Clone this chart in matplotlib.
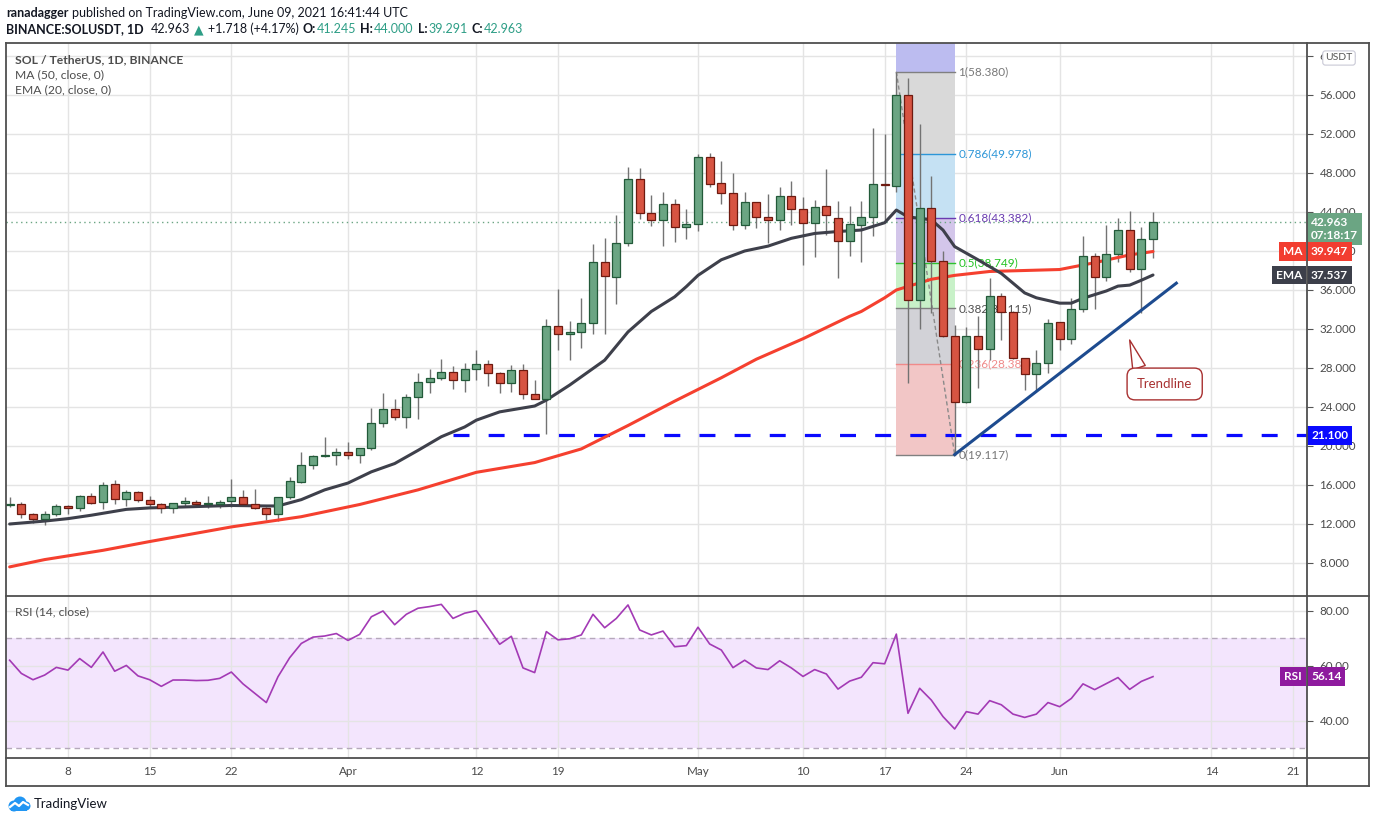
import matplotlib
matplotlib.use("Agg")
import matplotlib.pyplot as plt
import matplotlib.dates as mdates
import matplotlib.transforms as mtrans
from matplotlib.lines import Line2D
from matplotlib.patches import Circle
import pandas as pd

plt.rcParams['font.family'] = ['Lato', 'DejaVu Sans']

W, H = 1376, 823

# --- daily candles, SOL/USDT 1D, 3 Mar - 9 Jun 2021 ---
dates = pd.date_range('2021-03-03', periods=99, freq='D')
opens = [13.95, 14.0, 13.0, 12.5, 13.0, 13.8, 13.6, 14.85, 14.25, 16.1,
         14.55, 15.25, 14.45, 14.1, 13.6, 14.2, 14.3, 14.05, 14.05, 14.35,
         14.75, 14.1, 13.6, 13.0, 14.75, 16.35, 18.0, 18.95, 19.05, 19.35,
         19.05, 19.75, 22.4, 23.75, 22.95, 25.0, 26.55, 26.95, 27.55, 26.75,
         27.85, 28.45, 27.45, 26.45, 27.75, 25.3, 24.8, 32.3, 31.5, 31.7,
         32.6, 38.85, 37.3, 40.8, 47.35, 43.85, 43.15, 44.8, 42.45, 42.75,
         49.6, 46.95, 45.9, 42.65, 45.0, 43.45, 43.15, 45.6, 44.3, 42.85,
         44.6, 43.35, 41.0, 42.65, 43.45, 46.9, 46.7, 56.0, 35.0, 44.4,
         39.0, 31.3, 24.5, 31.3, 29.95, 35.4, 33.7, 29.0, 27.35, 28.55,
         32.75, 30.95, 34.0, 39.5, 37.3, 39.65, 42.2, 38.2, 41.245]
highs = [14.75, 14.3, 13.1, 13.3, 14.0, 13.9, 14.95, 15.2, 16.35, 16.5,
         15.45, 15.4, 14.9, 14.2, 14.2, 14.75, 14.45, 14.85, 14.45, 16.6,
         15.45, 15.55, 13.7, 14.8, 16.85, 19.35, 19.1, 20.9, 19.8, 20.4,
         19.75, 23.9, 25.4, 24.8, 25.3, 27.5, 27.9, 28.9, 28.2, 28.5,
         29.8, 28.8, 27.6, 28.3, 28.4, 26.75, 33.0, 36.1, 32.8, 35.15,
         40.7, 41.3, 43.7, 48.6, 48.5, 45.7, 46.0, 45.3, 44.3, 49.95,
         50.05, 49.25, 48.05, 46.0, 45.0, 45.8, 46.6, 47.15, 45.5, 45.2,
         48.45, 45.15, 44.6, 45.15, 52.6, 52.0, 58.38, 57.7, 53.0, 47.7,
         40.0, 32.4, 32.2, 33.3, 37.2, 35.65, 33.8, 29.0, 29.85, 33.0,
         32.75, 35.15, 41.5, 39.75, 42.7, 43.35, 44.15, 42.5, 44.0]
lows = [13.7, 12.65, 12.1, 11.9, 12.8, 13.0, 13.3, 14.0, 13.55, 14.1,
        13.8, 14.3, 13.65, 13.15, 13.1, 13.7, 13.7, 13.6, 13.6, 13.7,
        13.95, 13.5, 12.45, 12.35, 14.6, 16.25, 17.6, 18.85, 18.0, 18.7,
        18.3, 19.6, 21.9, 22.7, 21.8, 22.8, 25.45, 26.75, 25.85, 25.5,
        26.75, 26.2, 25.45, 25.5, 24.8, 24.8, 21.2, 29.8, 28.8, 30.05,
        31.45, 31.45, 34.6, 40.55, 43.25, 42.55, 40.5, 40.9, 41.2, 42.0,
        46.6, 44.8, 42.2, 42.3, 42.4, 40.8, 42.2, 42.65, 38.6, 39.35,
        41.6, 37.2, 39.5, 38.9, 41.5, 43.2, 46.0, 26.5, 32.0, 33.6,
        31.2, 19.117, 24.4, 25.9, 28.8, 30.9, 28.9, 25.75, 25.6, 27.45,
        29.85, 30.5, 33.7, 34.1, 36.95, 38.9, 37.8, 33.6, 39.291]
closes = [14.1, 13.0, 12.5, 13.0, 13.8, 13.6, 14.85, 14.2, 16.0, 14.6,
          15.3, 14.45, 14.1, 13.6, 14.2, 14.3, 14.1, 14.15, 14.3, 14.75,
          14.1, 13.6, 13.0, 14.75, 16.45, 18.0, 19.0, 19.1, 19.35, 19.05,
          19.75, 22.4, 23.75, 22.95, 25.0, 26.55, 26.95, 27.55, 26.75, 27.85,
          28.45, 27.45, 26.45, 27.75, 25.3, 24.8, 32.3, 31.5, 31.65, 32.6,
          38.85, 37.4, 40.8, 47.35, 43.85, 43.15, 44.8, 42.45, 42.75, 49.6,
          46.85, 45.9, 42.65, 45.0, 43.45, 43.15, 45.6, 44.3, 42.85, 44.5,
          43.7, 41.0, 42.75, 43.45, 46.85, 46.75, 56.0, 35.0, 44.4, 39.0,
          31.3, 24.5, 31.3, 29.95, 35.4, 33.7, 29.0, 27.35, 28.55, 32.65,
          30.95, 34.0, 39.5, 37.3, 39.65, 42.2, 38.2, 41.245, 42.963]

# RSI(14, close), one value per candle
rsi_vals = [62.1, 57.3, 55.0, 56.7, 59.5, 58.5, 62.7, 59.5, 65.1, 58.1,
            60.2, 56.4, 55.0, 52.6, 54.9, 54.9, 54.7, 54.8, 55.5, 57.8,
            53.5, 50.1, 46.7, 56.1, 63.0, 68.2, 70.5, 70.9, 71.8, 69.3,
            71.5, 77.9, 80.0, 75.0, 78.8, 81.0, 81.6, 82.4, 77.3, 79.2,
            80.1, 74.1, 67.9, 70.8, 59.3, 57.6, 72.5, 69.5, 69.9, 71.3,
            78.8, 73.9, 77.3, 82.2, 73.1, 71.3, 72.7, 67.0, 67.4, 74.1,
            68.0, 65.8, 59.4, 62.1, 59.3, 58.7, 61.9, 59.3, 56.2, 58.7,
            57.1, 51.6, 54.5, 55.9, 61.2, 60.8, 71.6, 42.8, 51.9, 47.6,
            41.6, 37.1, 43.4, 42.5, 47.4, 45.9, 42.5, 41.3, 42.5, 46.7,
            45.2, 48.2, 53.5, 51.4, 53.6, 55.8, 51.5, 54.4, 56.14]

# MA(50) and EMA(20) at these candle indexes
ma_idx = [0, 3, 8, 12, 19, 25, 30, 35, 40, 45, 49, 53, 57, 61, 64, 68, 72,
          73, 75, 76, 79, 81, 84, 90, 93, 96, 98]
ma_vals = [7.6, 8.35, 9.3, 10.2, 11.7, 12.75, 14.0, 15.5, 17.3, 18.3, 19.7,
           22.1, 24.6, 27.0, 28.9, 31.0, 33.3, 33.8, 35.2, 36.0, 37.1, 37.5,
           37.9, 38.1, 38.8, 39.6, 39.947]
ema_idx = [0, 3, 5, 7, 10, 12, 15, 19, 22, 23, 25, 27, 29, 31, 33, 35, 37,
           39, 40, 42, 43, 45, 46, 48, 51, 53, 55, 57, 58, 59, 61, 63, 65,
           67, 69, 71, 73, 75, 76, 77, 79, 80, 81, 83, 85, 87, 88, 90, 91,
           92, 94, 95, 96, 97, 98]
ema_vals = [12.0, 12.3, 12.55, 12.9, 13.5, 13.65, 13.75, 13.9, 13.85, 13.85,
            14.5, 15.5, 16.2, 17.35, 18.2, 19.55, 20.95, 21.95, 22.65, 23.5,
            23.7, 24.1, 24.7, 26.25, 28.8, 31.7, 33.8, 35.3, 36.35, 37.5,
            39.1, 40.0, 40.5, 41.3, 41.8, 42.0, 42.15, 42.9, 44.2, 43.5,
            43.2, 42.15, 40.45, 39.1, 37.7, 35.7, 35.2, 34.65, 34.65, 35.15,
            35.9, 36.4, 36.5, 37.0, 37.537]

# drawings
support_level = 21.1
support_start = '2021-04-10'
fib_start, fib_end = '2021-05-18', '2021-05-23'
fib_low, fib_high = 19.117, 58.38
fib_levels = [0, 0.236, 0.382, 0.5, 0.618, 0.786, 1, 1.618]
fib_fill = ['#f2c6c6', '#d2d2d7', '#c8f1c8', '#d3c6ea', '#c5e1f3', '#d9d9d9', '#bcbcf0']
fib_line = {0: '#808080', 0.236: '#f08a8a', 0.382: '#808080', 0.5: '#2fc12f',
            0.618: '#6a3bb0', 0.786: '#2c96d8', 1: '#808080'}
fib_text = {0: '#787878', 0.236: '#f08a8a', 0.382: '#505050', 0.5: '#22c322',
            0.618: '#6a3bb0', 0.786: '#2c96d8', 1: '#787878'}
trend_dates = ['2021-05-23', '2021-06-11']
trend_prices = [19.117, 36.7]
callout_tip = ('2021-06-07', 30.87)
callout_box = ('2021-06-10', 26.36)

grid_dates = ['2021-03-08', '2021-03-15', '2021-03-22', '2021-04-01', '2021-04-12',
              '2021-04-19', '2021-05-01', '2021-05-10', '2021-05-17', '2021-05-24',
              '2021-06-01', '2021-06-14', '2021-06-21']
grid_labels = ['8', '15', '22', 'Apr', '12', '19', 'May', '10', '17', '24', 'Jun', '14', '21']

GREEN, GREEN_E = '#6ba583', '#225a39'
RED, RED_E = '#d75442', '#6e1a10'
WICK = '#737373'
GRID = '#e4e4e4'
TXT = '#4a4a4a'


def d(s):
    return mdates.date2num(pd.Timestamp(s))


x = mdates.date2num(dates)
x0 = x[0]

fig = plt.figure(figsize=(W / 100, H / 100), dpi=100)
fig.patch.set_facecolor('white')


def fx(px):
    return px / W


def fy(py):
    return 1 - py / H


ax = fig.add_axes([fx(6), fy(596), fx(1307) - fx(6), fy(43) - fy(596)])
rax = fig.add_axes([fx(6), fy(758), fx(1307) - fx(6), fy(596) - fy(758)])

for a in (ax, rax):
    a.set_xlim(x0 - 0.314, x0 + 111.2)
    for s in a.spines.values():
        s.set_visible(False)
    a.set_axisbelow(True)
    a.set_xticks([d(g) for g in grid_dates])
    a.grid(True, color=GRID, lw=1)
    a.yaxis.tick_right()
    a.tick_params(axis='y', direction='out', length=4, width=0.8, color='#555555',
                  labelsize=8.4, labelcolor=TXT, pad=5)

ax.set_ylim(4.615, 61.333)
ax.set_yticks(range(8, 61, 4))
ax.set_yticklabels(['%.3f' % v for v in range(8, 61, 4)])
ax.tick_params(axis='x', length=0, labelbottom=False)

rax.set_ylim(26.545, 85.45)
rax.set_yticks([40, 60, 80])
rax.set_yticklabels(['40.00', '60.00', '80.00'])
rax.set_xticklabels(grid_labels)
rax.tick_params(axis='x', length=0, labelsize=8.4, labelcolor=TXT, pad=6)

# fib retracement box
fs_, fe_ = d(fib_start), d(fib_end)
rng = fib_high - fib_low
for k in range(len(fib_levels) - 1):
    lo = fib_low + fib_levels[k] * rng
    hi = fib_low + fib_levels[k + 1] * rng
    ax.fill_between([fs_, fe_], lo, hi, color=fib_fill[k], lw=0, zorder=1)
for lv, col in fib_line.items():
    p = fib_low + lv * rng
    ax.plot([fs_, fe_], [p, p], color=col, lw=1, zorder=1.5)
    ax.text(fe_ + 0.3, p, '%s(%.3f)' % (('%g' % lv), p), color=fib_text[lv],
            fontsize=8.5, va='center', ha='left', zorder=2)
ax.plot([fs_, fe_], [fib_high, fib_low], color='#8a8a8a', lw=1, ls=(0, (3, 2)), zorder=1.6)

# support line
ax.hlines(support_level, d(support_start), x0 + 111.2, color='#0a0aff', lw=2.3,
          linestyles=[(0, (5, 6))], zorder=2.5)

# moving averages
ax.plot(x[ma_idx], ma_vals, color='#f5402f', lw=2.2, zorder=3.5, solid_capstyle='round')
ax.plot(x[ema_idx], ema_vals, color='#3e404b', lw=2.2, zorder=3.5, solid_capstyle='round')

# candles
for xi, o, h, l, c in zip(x, opens, highs, lows, closes):
    up = c >= o
    ax.vlines(xi, l, h, color=WICK, lw=1, zorder=3)
    body = max(abs(c - o), 0.12)
    ax.bar(xi, body, bottom=min(o, c), width=0.68,
           color=GREEN if up else RED, edgecolor=GREEN_E if up else RED_E,
           lw=0.9, zorder=4)

# last price dotted line
ax.axhline(closes[-1], color='#6ba583', lw=1, ls=(0, (1, 2.5)), zorder=2)

# trendline + callout
ax.plot([d(t) for t in trend_dates], trend_prices, color='#1d4b8f', lw=2.2, zorder=5)
ax.annotate('Trendline', xy=(d(callout_tip[0]), callout_tip[1]),
            xytext=(d(callout_box[0]), callout_box[1]),
            ha='center', va='center', fontsize=9.5, color='#a83030', zorder=6,
            bbox=dict(boxstyle='round,pad=0.75,rounding_size=0.6', fc='white', ec='#a83030', lw=1),
            arrowprops=dict(arrowstyle='wedge,tail_width=1.0', fc='white', ec='#a83030',
                            lw=1, relpos=(0.1, 1.0), shrinkA=0, shrinkB=0))

# RSI pane
rax.axhspan(30, 70, color='#f3e5fd', lw=0, zorder=0.2)
for lv in (30, 70):
    rax.axhline(lv, color='#b5a8bb', lw=1, ls=(0, (4, 3)), zorder=0.6)
rax.plot(x, rsi_vals, color='#a33ab5', lw=1.2, zorder=3)

# pane legends
ax.text(9 / 1301, 1 - 17 / 553, 'SOL / TetherUS, 1D, BINANCE', transform=ax.transAxes,
        fontsize=8.7, fontweight='bold', color='#4d4d4d', va='center')
ax.text(9 / 1301, 1 - 32 / 553, 'MA (50, close, 0)', transform=ax.transAxes,
        fontsize=8.7, color='#4d4d4d', va='center')
ax.text(9 / 1301, 1 - 47 / 553, 'EMA (20, close, 0)', transform=ax.transAxes,
        fontsize=8.7, color='#4d4d4d', va='center')
rax.text(9 / 1301, 1 - 16 / 162, 'RSI (14, close)', transform=rax.transAxes,
         fontsize=8.7, color='#4d4d4d', va='center')


# right-scale tags
def tag(a, y, text, fc, x_px, ha='left', fs=8.6):
    tr = mtrans.blended_transform_factory(fig.transFigure, a.transData)
    a.text(fx(x_px), y, text, transform=tr, ha=ha, va='center', fontsize=fs,
           color='white', fontweight='bold', clip_on=False, zorder=10,
           bbox=dict(boxstyle='square,pad=0.32', fc=fc, ec='none'))


tag(ax, closes[-1] - 0.7, '%.3f\n07:18:17' % closes[-1], '#6ba583', 1311)
tag(ax, ma_vals[-1], '%.3f' % ma_vals[-1], '#f23d30', 1311)
tag(ax, ma_vals[-1], 'MA', '#f23d30', 1302, ha='right')
tag(ax, ema_vals[-1], '%.3f' % ema_vals[-1], '#3c3f4a', 1311)
tag(ax, ema_vals[-1], 'EMA', '#3c3f4a', 1302, ha='right')
tag(ax, support_level, '%.3f' % support_level, '#0a0aff', 1311)
tag(rax, rsi_vals[-1], '%.2f' % rsi_vals[-1], '#8e1a9e', 1311)
tag(rax, rsi_vals[-1], 'RSI', '#8e1a9e', 1302, ha='right')

fig.text(fx(1339), fy(58), 'USDT', fontsize=7.5, color='#555555', ha='center', va='center',
         zorder=10, bbox=dict(boxstyle='round,pad=0.25', fc='white', ec='#c9c9d6', lw=0.8))

# frame
frame = [((6, 43), (1369, 43)), ((6, 786), (1369, 786)), ((6, 43), (6, 786)),
         ((1369, 43), (1369, 786)), ((1307, 43), (1307, 786)),
         ((6, 596), (1369, 596)), ((6, 758), (1369, 758))]
for (ax_, ay_), (bx_, by_) in frame:
    fig.add_artist(Line2D([fx(ax_), fx(bx_)], [fy(ay_), fy(by_)], color='#4f4f4f',
                          lw=1.3, transform=fig.transFigure))


# header
def seq_text(x_px, y_px, parts, fs=9):
    r = fig.canvas.get_renderer()
    xp = x_px
    for s, w, c, gap in parts:
        t = fig.text(fx(xp), fy(y_px), s, fontsize=fs, fontweight=w, color=c,
                     va='center', ha='left')
        xp += t.get_window_extent(renderer=r).width + gap


DARK = '#131722'
TEAL = '#2e9e86'
seq_text(6, 13, [('ranadagger', 'bold', DARK, 4),
                 ('published on TradingView.com, June 09, 2021 16:41:44 UTC', 'normal', DARK, 0)])
seq_text(6, 29, [('BINANCE:SOLUSDT, 1D', 'bold', DARK, 7),
                 ('42.963', 'normal', DARK, 4), ('\u25b2', 'normal', TEAL, 4),
                 ('+1.718 (+4.17%)', 'normal', DARK, 4),
                 ('O:', 'bold', DARK, 1), ('41.245', 'normal', TEAL, 4),
                 ('H:', 'bold', DARK, 1), ('44.000', 'normal', TEAL, 4),
                 ('L:', 'bold', DARK, 1), ('39.291', 'normal', TEAL, 4),
                 ('C:', 'bold', DARK, 1), ('42.963', 'normal', TEAL, 0)])

# TradingView logo
lax = fig.add_axes([fx(7), fy(813), fx(31) - fx(7), fy(795) - fy(813)])
lax.set_xlim(0, 24)
lax.set_ylim(0, 18)
lax.axis('off')
for cx, cy, rr in [(7, 7, 5.5), (13, 10, 6.5), (19, 7, 4.5)]:
    lax.add_patch(Circle((cx, cy), rr, color='#2196f3', lw=0))
lax.fill_between([4, 20], 1.5, 7, color='#2196f3', lw=0)
lax.plot([3, 8, 12, 16, 21], [6, 10, 7, 11, 8], color='white', lw=1.6)
fig.text(fx(34), fy(804), 'TradingView', fontsize=9.5, color=DARK, va='center', ha='left')

fig.savefig('out.png', dpi=100)
